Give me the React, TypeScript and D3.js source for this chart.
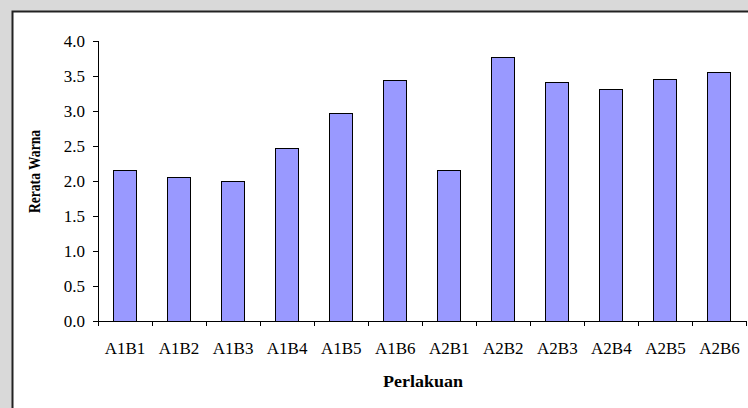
import React from "react";
import * as d3 from "d3";

const categories = ["A1B1", "A1B2", "A1B3", "A1B4", "A1B5", "A1B6", "A2B1", "A2B2", "A2B3", "A2B4", "A2B5", "A2B6"];
const values = [2.15, 2.05, 2.0, 2.47, 2.97, 3.44, 2.15, 3.77, 3.41, 3.31, 3.45, 3.55];
const yTicks = [0, 0.5, 1.0, 1.5, 2.0, 2.5, 3.0, 3.5, 4.0];
const xTitle = "Perlakuan";
const yTitle = "Rerata Warna";

const W = 748;
const H = 408;
const left = 98;
const right = 746.5;
const top = 41;
const bottom = 321;

const txt: React.CSSProperties = { fontFamily: '"Liberation Serif", "DejaVu Serif", serif' };

export default function App() {
  const x = d3.scaleBand<string>().domain(categories).range([left, right]).paddingInner(0.574).paddingOuter(0.287);
  const y = d3.scaleLinear().domain([0, 4]).range([bottom, top]);
  const step = x.step();
  const xTickPos = d3.range(categories.length + 1).map((i) => left + i * step);

  return (
    <svg width={W} height={H} style={{ position: "fixed", left: 0, top: 0, display: "block" }}>
      <rect x={0} y={0} width={W} height={H} fill="#d9d9d9" />
      <rect x={12.5} y={11.5} width={W} height={H} fill="#ffffff" stroke="#222" strokeWidth={2} />
      {categories.map((c, i) => (
        <rect
          key={c}
          x={x(c)!}
          y={y(values[i])}
          width={x.bandwidth()}
          height={y(0) - y(values[i])}
          fill="#9999ff"
          stroke="#000"
          strokeWidth={1}
          shapeRendering="crispEdges"
        />
      ))}
      <line x1={left} x2={left} y1={top} y2={bottom} stroke="#000" strokeWidth={1} shapeRendering="crispEdges" />
      <line x1={left} x2={right} y1={bottom} y2={bottom} stroke="#000" strokeWidth={1} shapeRendering="crispEdges" />
      {yTicks.map((t) => (
        <g key={t}>
          <line x1={left - 5} x2={left} y1={y(t)} y2={y(t)} stroke="#000" strokeWidth={1} shapeRendering="crispEdges" />
          <text x={85} y={y(t) + 6} textAnchor="end" fontSize={17} fill="#000" style={txt}>
            {t.toFixed(1)}
          </text>
        </g>
      ))}
      {xTickPos.map((p, i) => (
        <line key={i} x1={p} x2={p} y1={bottom} y2={bottom + 5} stroke="#000" strokeWidth={1} shapeRendering="crispEdges" />
      ))}
      {categories.map((c) => (
        <text key={c} x={x(c)! + x.bandwidth() / 2} y={354} textAnchor="middle" fontSize={17} fill="#000" style={txt}>
          {c}
        </text>
      ))}
      <text x={423} y={387} textAnchor="middle" fontSize={17} fontWeight="bold" fill="#000" style={txt} textLength={80} lengthAdjust="spacingAndGlyphs">
        {xTitle}
      </text>
      <text
        transform={`translate(40,171.5) rotate(-90)`}
        textAnchor="middle"
        fontSize={16.5}
        fontWeight="bold"
        fill="#000"
        style={txt}
        textLength={83}
        lengthAdjust="spacingAndGlyphs"
      >
        {yTitle}
      </text>
    </svg>
  );
}
